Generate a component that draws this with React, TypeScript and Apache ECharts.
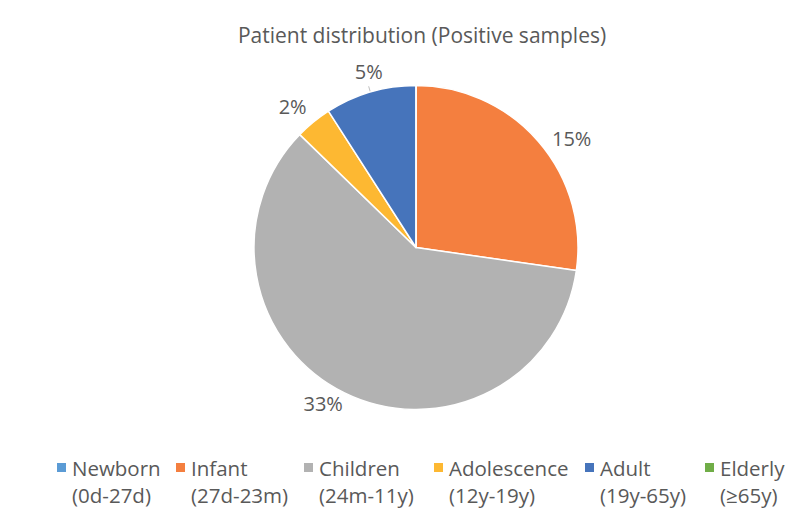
import React, { useEffect, useRef } from "react";
import * as echarts from "echarts";

const categories = ["Newborn", "Infant", "Children", "Adolescence", "Adult", "Elderly"];
const ranges = ["(0d-27d)", "(27d-23m)", "(24m-11y)", "(12y-19y)", "(19y-65y)", "(≥65y)"];
const values = [0, 15, 33, 2, 5, 0];
const colors = ["#5B9BD5", "#F47F3F", "#B2B2B2", "#FDB832", "#4674BB", "#70AD47"];

const legendLefts = [55, 174, 302, 432, 583, 703];
const labelShift = [
  [0, 0],
  [4, 1],
  [6, 5],
  [2, -11],
  [19, -15],
  [0, 0],
];

export default function App() {
  const ref = useRef<HTMLDivElement>(null);
  useEffect(() => {
    document.body.style.margin = "0";
    const chart = echarts.init(ref.current!, null, { renderer: "svg" });
    const font = "'Open Sans', 'Noto Sans', sans-serif";
    chart.setOption({
      animation: false,
      color: colors,
      title: {
        text: "Patient distribution (Positive samples)",
        left: 417,
        textAlign: "center",
        top: 19,
        textStyle: { fontFamily: font, fontSize: 21, fontWeight: "normal", color: "#595959" },
      },
      legend: categories.map((c, i) => ({
        top: 427,
        left: legendLefts[i],
        padding: 0,
        itemWidth: 11,
        itemHeight: 11,
        icon: "rect",
        selectedMode: false,
        formatter: (name: string) => " \n" + name + "\n" + ranges[categories.indexOf(name)],
        textStyle: {
          fontFamily: font,
          fontSize: 20.5,
          color: "#595959",
          lineHeight: 27,
        },
        data: [c],
      })),
      series: [
        {
          type: "pie",
          center: [416, 247.5],
          radius: 162,
          startAngle: 90,
          clockwise: true,
          avoidLabelOverlap: false,
          itemStyle: { borderColor: "#fff", borderWidth: 1.5 },
          label: {
            show: true,
            position: "outside",
            fontFamily: font,
            fontSize: 20,
            color: "#595959",
            formatter: (p: any) => (p.value ? p.value + "%" : ""),
          },
          labelLine: { show: false, length: 6, length2: 0 },
          labelLayout: (p: any) => ({ dx: labelShift[p.dataIndex][0], dy: labelShift[p.dataIndex][1] }),
          emphasis: { disabled: true },
          data: categories.map((c, i) => ({
            name: c,
            value: values[i],
            labelLine:
              c === "Adult"
                ? { show: true, length: 6, length2: 0, lineStyle: { color: "#BFBFBF", width: 1 } }
                : undefined,
          })),
        },
      ],
    });
    return () => chart.dispose();
  }, []);
  return <div ref={ref} style={{ width: 797, height: 520 }} />;
}
